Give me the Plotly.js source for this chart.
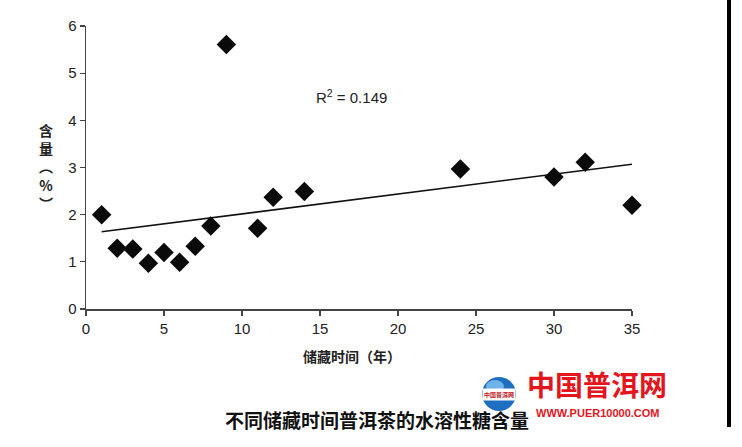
<!DOCTYPE html>
<html>
<head>
<meta charset="utf-8">
<script src="https://cdn.plot.ly/plotly-3.0.1.min.js"></script>
<style>html,body{margin:0;padding:0;background:#fff;}#chart{width:742px;height:447px;}</style>
</head>
<body>
<div id="chart"></div>
<script>
// Data
const storageYears = [1, 2, 3, 4, 5, 6, 7, 8, 9, 11, 12, 14, 24, 30, 32, 35];
const sugarContent = [2.00, 1.29, 1.27, 0.97, 1.20, 0.99, 1.33, 1.76, 5.61, 1.71, 2.37, 2.49, 2.97, 2.80, 3.11, 2.20];
const xTicks = [0, 5, 10, 15, 20, 25, 30, 35];
const yTicks = [0, 1, 2, 3, 4, 5, 6];
const r2Label = 'R<sup>2</sup> = 0.149';
const xTitle = '储藏时间（年）';
const yTitleChars = ['含', '量', '︵', '%', '︶'];
const caption = '不同储藏时间普洱茶的水溶性糖含量';
const logoText = '中国普洱网';
const logoUrl = 'WWW.PUER10000.COM';

// Linear least-squares trend line
const n = storageYears.length;
const mx = storageYears.reduce((a, b) => a + b, 0) / n;
const my = sugarContent.reduce((a, b) => a + b, 0) / n;
let sxy = 0, sxx = 0;
for (let i = 0; i < n; i++) { sxy += (storageYears[i] - mx) * (sugarContent[i] - my); sxx += (storageYears[i] - mx) ** 2; }
const slope = sxy / sxx, intercept = my - slope * mx;
const xMin = Math.min(...storageYears), xMax = Math.max(...storageYears);
const trendX = [xMin, xMax];
const trendY = trendX.map(v => intercept + slope * v);

const W = 742, H = 447;
const M = {l: 86, r: 110, t: 26, b: 138};
const PW = W - M.l - M.r, PH = H - M.t - M.b;
const px = v => (v - M.l) / PW;
const py = v => 1 - (v - M.t) / PH;

const tickFont = {family: 'Liberation Sans, Arial, sans-serif', size: 15, color: '#222'};
const cjk = 'Noto Sans CJK SC, sans-serif';

const traces = [
  {x: trendX, y: trendY, mode: 'lines', line: {color: '#111', width: 1.6}, hoverinfo: 'skip', showlegend: false, cliponaxis: false},
  {x: storageYears, y: sugarContent, mode: 'markers', marker: {symbol: 'diamond', size: 15, color: '#0a0a0a'}, showlegend: false, cliponaxis: false}
];

const annotations = [
  {xref: 'x', yref: 'y', x: 14.6, y: 4.5, text: r2Label, showarrow: false, xanchor: 'left', yanchor: 'middle',
   font: {family: 'Liberation Sans, Arial, sans-serif', size: 15, color: '#222'}},
  {xref: 'paper', yref: 'paper', x: px(352), y: py(356), text: '<b>' + xTitle + '</b>', showarrow: false,
   xanchor: 'center', yanchor: 'middle', font: {family: cjk, size: 14, color: '#222'}},
  {xref: 'paper', yref: 'paper', x: px(46), y: py(166), text: '<b>' + yTitleChars.join('<br>') + '</b>', showarrow: false,
   xanchor: 'center', yanchor: 'middle', font: {family: cjk, size: 14, color: '#222'}},
  {xref: 'paper', yref: 'paper', x: px(377), y: py(419), text: caption, showarrow: false,
   xanchor: 'center', yanchor: 'middle', font: {family: cjk, size: 19, color: '#111', weight: 600}},
  {xref: 'paper', yref: 'paper', x: px(597), y: py(384), text: '<b>' + logoText + '</b>', showarrow: false,
   xanchor: 'center', yanchor: 'middle', font: {family: cjk, size: 28, color: '#e3151d'}},
  {xref: 'paper', yref: 'paper', x: px(597), y: py(413), text: '<b>' + logoUrl + '</b>', showarrow: false,
   xanchor: 'center', yanchor: 'middle', font: {family: 'Liberation Sans, Arial, sans-serif', size: 11, color: '#e3151d'}},
  {xref: 'paper', yref: 'paper', x: px(499), y: py(394), text: '<b>' + logoText + '</b>', showarrow: false,
   xanchor: 'center', yanchor: 'middle', font: {family: cjk, size: 6, color: '#c0141b'}, bgcolor: '#ffffff'}
];

const shapes = [
  {type: 'circle', xref: 'paper', yref: 'paper', x0: px(482), x1: px(516), y0: py(411), y1: py(377),
   fillcolor: '#1f6fc0', line: {width: 0}, layer: 'below'},
  {type: 'circle', xref: 'paper', yref: 'paper', x0: px(486), x1: px(504), y0: py(393), y1: py(380),
   fillcolor: '#6fb3e8', line: {width: 0}, layer: 'below'},
  {type: 'rect', xref: 'paper', yref: 'paper', x0: px(727), x1: px(731), y0: py(427), y1: py(0),
   fillcolor: '#000', line: {width: 0}}
];

const layout = {
  width: W, height: H,
  margin: M,
  paper_bgcolor: '#fff', plot_bgcolor: '#fff',
  showlegend: false,
  xaxis: {range: [0, 35], tickvals: xTicks, ticks: 'outside', ticklen: 5, tickcolor: '#444', tickwidth: 1.3,
          showline: true, linecolor: '#444', linewidth: 1.5, showgrid: false, zeroline: false,
          tickfont: tickFont, fixedrange: true},
  yaxis: {range: [0, 6], tickvals: yTicks, ticks: 'outside', ticklen: 5, tickcolor: '#444', tickwidth: 1.3,
          showline: true, linecolor: '#444', linewidth: 1.5, showgrid: false, zeroline: false,
          tickfont: tickFont, fixedrange: true},
  annotations: annotations,
  shapes: shapes
};

Plotly.newPlot('chart', traces, layout, {displayModeBar: false, staticPlot: true});
</script>
</body>
</html>
